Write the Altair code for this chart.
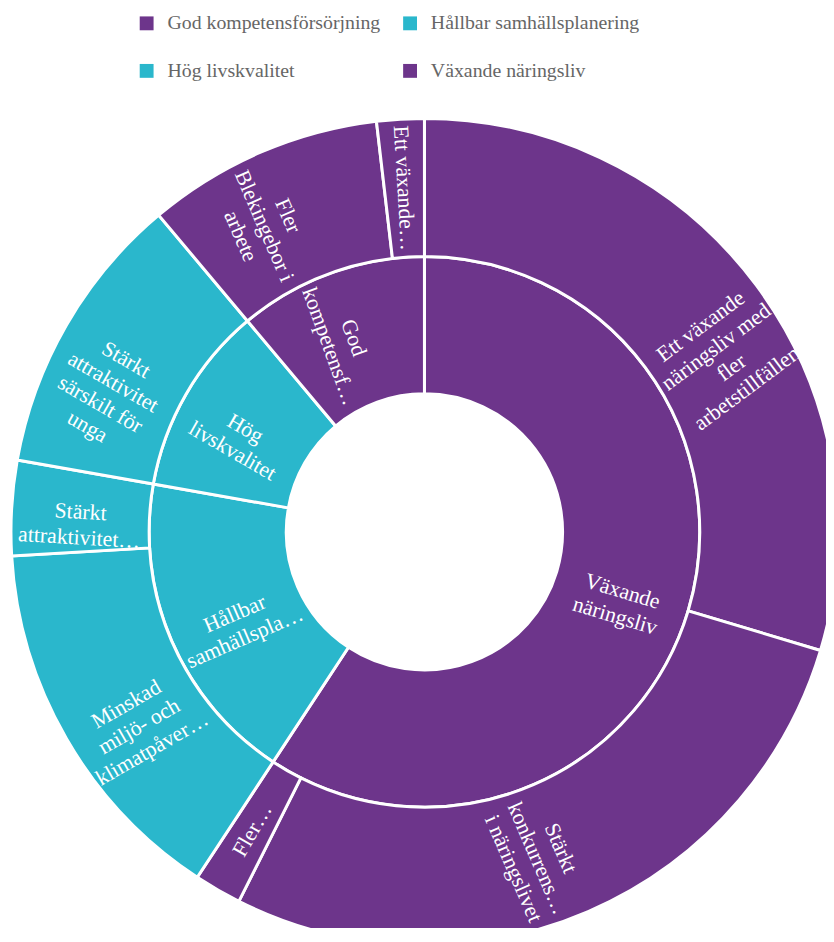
import math
import altair as alt
import pandas as pd

# ---- data ----
parents = ["Växande näringsliv", "Hållbar samhällsplanering", "Hög livskvalitet", "God kompetensförsörjning"]
parent_labels = ["Växande\nnäringsliv", "Hållbar\nsamhällspla…", "Hög\nlivskvalitet", "God\nkompetensf…"]

child_parent = [
    "Växande näringsliv", "Växande näringsliv", "Växande näringsliv",
    "Hållbar samhällsplanering", "Hållbar samhällsplanering",
    "Hög livskvalitet",
    "God kompetensförsörjning", "God kompetensförsörjning",
]
child_names = [
    "Ett växande näringsliv med fler arbetstillfällen",
    "Stärkt konkurrenskraft i näringslivet",
    "Fler företag",
    "Minskad miljö- och klimatpåverkan",
    "Stärkt attraktivitet",
    "Stärkt attraktivitet särskilt för unga",
    "Fler Blekingebor i arbete",
    "Ett växande näringsliv",
]
child_labels = [
    "Ett växande\nnäringsliv med\nfler\narbetstillfällen",
    "Stärkt\nkonkurrens…\ni näringslivet",
    "Fler…",
    "Minskad\nmiljö- och\nklimatpåver…",
    "Stärkt\nattraktivitet…",
    "Stärkt\nattraktivitet\nsärskilt för\nunga",
    "Fler\nBlekingebor i\narbete",
    "Ett växande…",
]
child_values = [16, 15, 1, 8, 2, 6, 5, 1]

legend_order = ["God kompetensförsörjning", "Hållbar samhällsplanering", "Hög livskvalitet", "Växande näringsliv"]
PURPLE = "#6d358b"
TEAL = "#2ab7cc"
legend_colors = [PURPLE, TEAL, TEAL, PURPLE]

SERIF = "Liberation Serif, Times New Roman, DejaVu Serif, serif"

# ---- derived tables ----
total = sum(child_values)


def rot_of(mid):
    r = mid - 90 if mid <= 180 else mid - 270
    return r % 360


rows_out = []
acc = 0.0
for p, n, lab, v in zip(child_parent, child_names, child_labels, child_values):
    s = acc / total * 360
    acc += v
    e = acc / total * 360
    m = (s + e) / 2
    rows_out.append(dict(parent=p, name=n, label=lab, value=v, start=s, end=e, mid=m, rot=rot_of(m)))
outer = pd.DataFrame(rows_out)

rows_in = []
acc = 0.0
for p, lab in zip(parents, parent_labels):
    v = outer.loc[outer.parent == p, "value"].sum()
    s = acc / total * 360
    acc += v
    e = acc / total * 360
    m = (s + e) / 2
    rows_in.append(dict(parent=p, name=p, label=lab, value=v, start=s, end=e, mid=m, rot=rot_of(m)))
inner = pd.DataFrame(rows_in)

# ---- chart ----
CX, CY = 420.5, 524.5
R0, R1, R2 = 139.5, 278, 417.5

theta_scale = alt.Scale(domain=[0, 360], range=[0, 2 * math.pi])
color = alt.Color(
    "parent:N",
    scale=alt.Scale(domain=legend_order, range=legend_colors),
    legend=alt.Legend(
        title=None, orient="none", legendX=130, legendY=1, columns=2,
        direction="horizontal",
        symbolType="square", symbolSize=196, symbolStrokeWidth=0,
        labelFontSize=20, labelFont=SERIF, labelColor="#666666",
        labelOffset=11, labelLimit=400, rowPadding=28, columnPadding=20, padding=0,
    ),
)


def arcs(df, r_in, r_out):
    return alt.Chart(df).mark_arc(stroke="white", strokeWidth=3).encode(
        theta=alt.Theta("start:Q", scale=theta_scale),
        theta2="end:Q",
        radius=alt.value(r_out),
        radius2=alt.value(r_in),
        x=alt.value(CX),
        y=alt.value(CY),
        color=color,
        tooltip=["name:N", "value:Q"],
    )


def labels(df, r):
    return alt.Chart(df).mark_text(
        font=SERIF, fontSize=22, color="white", lineBreak="\n",
        lineHeight=26, align="center", baseline="middle",
    ).encode(
        theta=alt.Theta("mid:Q", scale=theta_scale),
        radius=alt.value(r),
        x=alt.value(CX),
        y=alt.value(CY),
        angle=alt.Angle("rot:Q", scale=None),
        text="label:N",
    )


chart = alt.layer(
    arcs(inner, R0, R1),
    arcs(outer, R1, R2),
    labels(inner, (R0 + R1) / 2),
    labels(outer, (R1 + R2) / 2),
).properties(
    width=826, height=920, padding=0, autosize="none",
).configure_view(stroke=None)

chart.save("out.html", embed_options={"renderer": "svg", "actions": False})
